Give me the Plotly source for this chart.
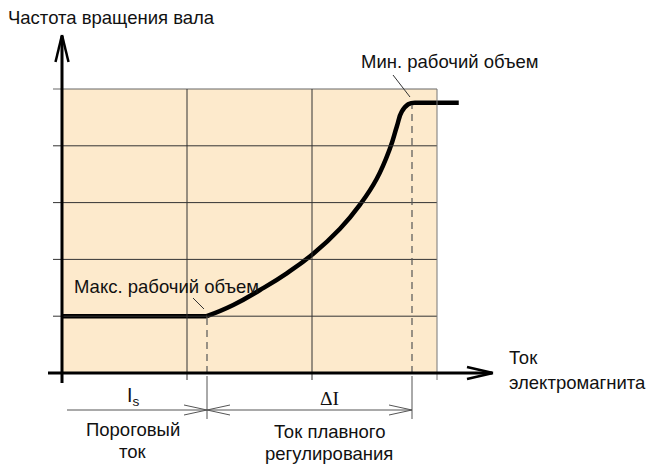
import plotly.graph_objects as go

# ---- data (units: x = current, grid step 1; y = shaft speed, grid step 1) ----
grid_x = [1, 2, 3]
grid_y = [1, 2, 3, 4, 5]
flat_low_x = [0, 1.158]
flat_low_y = [1.0, 1.0]
curve_x = [1.158, 1.370, 1.584, 1.798, 2.010, 2.224, 2.384, 2.518, 2.624, 2.678, 2.718, 2.770, 2.824]
curve_y = [1.000, 1.197, 1.461, 1.755, 2.100, 2.540, 2.965, 3.420, 3.956, 4.336, 4.600, 4.731, 4.759]
flat_high_x = [2.824, 3.174]
flat_high_y = [4.759, 4.759]
i_threshold = 1.16      # Is
i_max = 2.80            # end of proportional range
y_min_disp = 4.72

# ---- pixel mapping (window pixels) ----
W, H = 650, 465
XU, YU = 125.0, 56.8
def ux(px): return (px - 62) / XU
def uy(py): return (373 - py) / YU

FONT = "Liberation Sans, Arial, sans-serif"
FS = 18.5
fig = go.Figure()
shapes = []

# beige field
shapes.append(dict(type="rect", x0=0, x1=3, y0=0, y1=5, xref="x", yref="y",
                   fillcolor="#fdeacc", line=dict(width=0), layer="below"))
# grid lines
for gy in grid_y:
    shapes.append(dict(type="line", x0=ux(53), x1=3, y0=gy, y1=gy, xref="x", yref="y",
                       line=dict(color="#333" if gy < 5 else "#666", width=1)))
for gx in grid_x:
    shapes.append(dict(type="line", x0=gx, x1=gx, y0=uy(380), y1=5, xref="x", yref="y",
                       line=dict(color="#333" if gx < 3 else "#777", width=1)))

# dashed verticals
shapes.append(dict(type="line", x0=i_threshold, x1=i_threshold, y0=0, y1=1, xref="x", yref="y",
                   line=dict(color="#555", width=1.2, dash="7px,5px")))
shapes.append(dict(type="line", x0=i_max, x1=i_max, y0=0, y1=y_min_disp, xref="x", yref="y",
                   line=dict(color="#555", width=1.2, dash="7px,5px")))
# extension lines below axis
for xv in (i_threshold, i_max):
    shapes.append(dict(type="line", x0=xv, x1=xv, y0=uy(376), y1=uy(419), xref="x", yref="y",
                       line=dict(color="#555", width=1)))
# dimension line
ydim = uy(410)
shapes.append(dict(type="line", x0=ux(67), x1=i_max, y0=ydim, y1=ydim, xref="x", yref="y",
                   line=dict(color="#555", width=1)))
def arrow_arms(xt, direction):
    for s in (-1, 1):
        shapes.append(dict(type="line", x0=xt, y0=ydim, x1=xt + direction * 23 / XU,
                           y1=ydim + s * 5 / YU, xref="x", yref="y",
                           line=dict(color="#555", width=1)))
arrow_arms(i_threshold, -1)
arrow_arms(i_threshold, +1)
arrow_arms(i_max, -1)

# leader lines
shapes.append(dict(type="line", x0=ux(393), y0=uy(75), x1=ux(410), y1=uy(97), xref="x", yref="y",
                   line=dict(color="#333", width=1)))
shapes.append(dict(type="line", x0=ux(193), y0=uy(298), x1=ux(204), y1=uy(309), xref="x", yref="y",
                   line=dict(color="#333", width=1)))

# axes
shapes.append(dict(type="line", x0=0, x1=0, y0=uy(383), y1=uy(36), xref="x", yref="y",
                   line=dict(color="black", width=3)))
shapes.append(dict(type="line", x0=ux(48), x1=ux(492), y0=0, y1=0, xref="x", yref="y",
                   line=dict(color="black", width=3)))
for s in (-1, 1):
    shapes.append(dict(type="line", x0=0, y0=uy(35), x1=ux(62 + s * 6.5), y1=uy(62), xref="x", yref="y",
                       line=dict(color="black", width=2.5)))
    shapes.append(dict(type="line", x0=ux(493), y0=0, x1=ux(467), y1=uy(373 + s * 6), xref="x", yref="y",
                       line=dict(color="black", width=2.5)))

# characteristic curve
for xs, ys, shp in ((flat_low_x, flat_low_y, "linear"), (curve_x, curve_y, "spline"),
                    (flat_high_x, flat_high_y, "linear")):
    fig.add_trace(go.Scatter(x=xs, y=ys, mode="lines",
                             line=dict(color="black", width=4.5, shape=shp,
                                       smoothing=1.3 if shp == "spline" else None),
                             hoverinfo="skip", showlegend=False))

ann = []
def txt(text, px, py, xanchor="left", size=FS, family=FONT):
    ann.append(dict(text=text, x=px / W, y=1 - py / H, xref="paper", yref="paper", showarrow=False,
                    xanchor=xanchor, yanchor="middle", font=dict(family=family, size=size, color="#111")))

txt("Частота вращения вала", 6, 18)
txt("Мин. рабочий объем", 359, 61)
txt("Макс. рабочий объем", 72, 286)
txt("Ток", 507, 357)
txt("электромагнита", 507, 382)
txt("I<sub>s</sub>", 133, 396, xanchor="center", size=19.5)
txt("Пороговый", 133, 429, xanchor="center")
txt("ток", 133, 451, xanchor="center")
txt("ΔI", 329, 398, xanchor="center", size=19.5, family="Liberation Serif, Times New Roman, serif")
txt("Ток плавного", 329, 431, xanchor="center")
txt("регулирования", 329, 453, xanchor="center")

fig.update_layout(
    width=W, height=H, margin=dict(l=0, r=0, t=0, b=0),
    paper_bgcolor="white", plot_bgcolor="white",
    xaxis=dict(range=[ux(0), ux(W)], visible=False, fixedrange=True),
    yaxis=dict(range=[uy(H), uy(0)], visible=False, fixedrange=True),
    shapes=shapes, annotations=ann, showlegend=False,
)
fig.write_html("out.html", config={"displayModeBar": False},
               post_script="document.body.style.margin='0';document.body.style.overflow='hidden';")
